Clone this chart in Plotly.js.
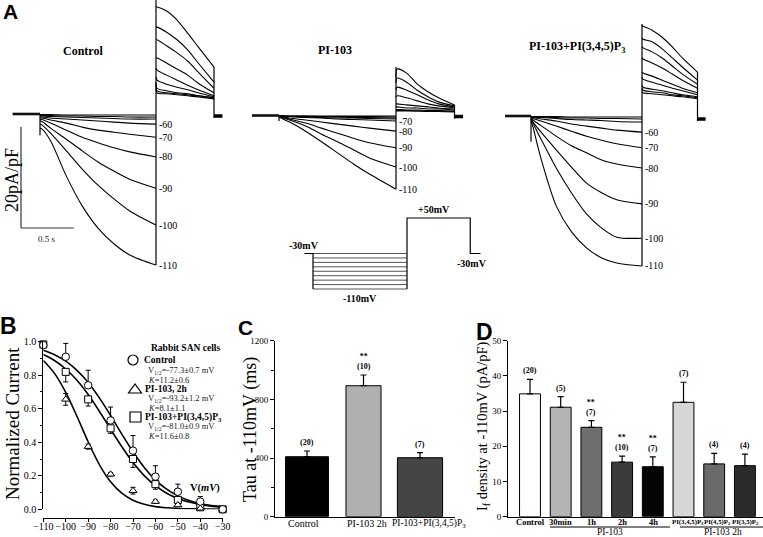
<!DOCTYPE html>
<html><head><meta charset="utf-8">
<script src="https://cdn.plot.ly/plotly-3.0.1.min.js"></script>
<style>html,body{margin:0;padding:0;background:#fff}</style>
</head><body><div id="chart" style="width:763px;height:537px"></div>
<script>
// ---------------- DATA ----------------
// Panel A: current traces (pA/pF) sampled at times (s) read from the recordings
const STEPS_MV = [-30,-40,-50,-60,-70,-80,-90,-100,-110];
const HOLD_T  = [-0.26, 0];
const T_PULSE = [0, 0.02, 0.1, 0.25, 0.4, 0.55, 0.7, 0.85, 1.1];
const T_TAIL  = [1.1, 1.11, 1.2, 1.3, 1.4, 1.5, 1.65];
const AFTER_T = [1.65, 1.73];

const CTRL_PULSE = [
 [-0.1,-0.1,-0.1,-0.2,-0.2,-0.2,-0.2,-0.2,-0.2],
 [-0.3,-0.3,-0.3,-0.4,-0.4,-0.5,-0.5,-0.6,-0.6],
 [-0.4,-0.4,-0.5,-0.6,-0.7,-0.8,-0.9,-1.0,-1.0],
 [-0.6,-0.6,-0.8,-1.0,-1.2,-1.4,-1.6,-1.8,-2.0],
 [-0.8,-0.8,-1.2,-1.8,-2.6,-3.2,-3.6,-4.0,-4.6],
 [-1.0,-1.1,-1.8,-3.2,-4.6,-5.7,-6.7,-7.5,-8.5],
 [-1.4,-1.5,-2.8,-5.0,-7.3,-9.5,-11.3,-12.9,-14.7],
 [-2.0,-2.2,-3.8,-7.3,-10.9,-14.1,-16.8,-19.2,-22.0],
 [-2.8,-3.0,-5.3,-12.3,-18.2,-22.6,-25.7,-27.9,-29.9]
];
const CTRL_TAIL = [
 [5.1,4.2,4.0,3.8,3.6,3.4,3.0],
 [5.7,4.6,4.2,4.0,3.8,3.6,3.2],
 [6.3,5.1,4.6,4.2,4.0,3.6,3.2],
 [7.3,6.7,5.9,5.3,4.8,4.2,3.4],
 [9.1,8.7,7.7,6.7,5.7,4.8,3.6],
 [11.1,11.1,10.1,8.9,7.7,6.1,4.2],
 [14.7,14.7,13.5,12.1,10.5,8.3,5.1],
 [17.2,17.2,16.2,14.7,12.7,10.1,6.3],
 [21.2,21.2,20.4,18.6,16.0,13.3,9.3]
];
const PI_PULSE = [
 [-0.1,-0.1,-0.1,-0.1,-0.1,-0.1,-0.1,-0.1,-0.1],
 [-0.1,-0.1,-0.1,-0.1,-0.2,-0.2,-0.2,-0.2,-0.3],
 [-0.1,-0.1,-0.2,-0.2,-0.3,-0.3,-0.4,-0.4,-0.5],
 [-0.1,-0.1,-0.2,-0.3,-0.4,-0.5,-0.5,-0.6,-0.7],
 [-0.1,-0.1,-0.2,-0.4,-0.5,-0.7,-0.8,-0.9,-1.1],
 [-0.2,-0.2,-0.5,-0.9,-1.3,-1.7,-2.1,-2.5,-3.1],
 [-0.2,-0.3,-0.7,-1.5,-2.5,-3.5,-4.5,-5.4,-6.4],
 [-0.3,-0.4,-0.9,-2.1,-3.7,-5.2,-6.8,-8.4,-10.2],
 [-0.3,-0.5,-1.3,-3.1,-5.2,-7.4,-9.6,-11.6,-14.6]
];
const PI_TAIL = [
 [0.9,0.9,0.9,0.9,0.8,0.8,0.7],
 [1.0,1.0,1.0,0.9,0.9,0.9,0.8],
 [1.2,1.2,1.1,1.1,1.0,1.0,0.9],
 [1.7,1.7,1.5,1.5,1.3,1.3,1.1],
 [2.3,2.3,2.1,1.9,1.7,1.5,1.3],
 [3.6,3.9,3.5,2.9,2.3,1.9,1.5],
 [5.0,5.6,5.0,4.1,3.1,2.3,1.7],
 [6.5,7.4,6.6,5.0,3.7,2.7,1.9],
 [7.5,9.2,8.4,6.2,4.7,3.5,2.1]
];
const PIP_PULSE = [
 [-0.1,-0.1,-0.1,-0.1,-0.2,-0.2,-0.2,-0.2,-0.2],
 [-0.1,-0.2,-0.2,-0.3,-0.4,-0.4,-0.5,-0.5,-0.6],
 [-0.1,-0.2,-0.3,-0.5,-0.7,-0.8,-0.9,-1.1,-1.2],
 [-0.2,-0.3,-0.6,-1.0,-1.6,-2.0,-2.4,-2.8,-3.2],
 [-0.3,-0.5,-1.0,-2.0,-3.0,-4.0,-4.8,-5.5,-6.3],
 [-0.4,-0.8,-1.9,-4.0,-5.9,-7.3,-8.7,-9.5,-10.3],
 [-0.6,-1.2,-3.2,-6.7,-10.1,-13.3,-15.2,-16.6,-17.4],
 [-0.6,-1.4,-4.6,-10.3,-15.2,-19.4,-22.2,-24.0,-24.2],
 [-0.8,-2.2,-8.5,-17.8,-22.9,-26.1,-28.1,-29.1,-29.7]
];
const PIP_TAIL = [
 [4.8,4.6,4.4,4.2,4.0,3.8,3.4],
 [5.5,5.1,4.8,4.6,4.2,4.0,3.6],
 [6.1,5.7,5.3,5.0,4.6,4.2,3.8],
 [7.7,7.3,6.7,6.1,5.5,5.0,4.2],
 [8.7,8.5,7.9,7.1,6.3,5.5,4.6],
 [11.5,11.3,10.5,9.5,8.3,7.1,5.5],
 [13.7,13.5,12.7,11.5,9.9,8.3,6.3],
 [15.4,15.2,14.7,13.3,11.5,9.7,7.1],
 [18.0,17.8,17.0,15.6,13.7,11.5,8.7]
];
const STEP_DIP  = [-4.2, -1.1, -5.1];   // onset transient (pA/pF)
const SPIKE_TOP = [30, 9.6, 18.2];      // transient at step to +50 mV
const AFTER_I   = [-0.4, -0.2, -0.6];   // current back at -30 mV
const SCALE_I = 20, SCALE_T = 0.5;      // scale bar values

// Voltage protocol (mV, s)
const HOLD_MV = -30, TEST_MV = 50;
const PROT_HOLD_T = [-0.1, 0], PROT_PULSE_T = [0, 1.1], PROT_TEST_T = [1.1, 1.84], PROT_AFTER_T = [1.84, 1.96];

// Panel B: activation curves
const B_V = [-110,-100,-90,-80,-70,-60,-50,-40,-30];
const B_CTRL = [0.98, 0.91, 0.74, 0.53, 0.35, 0.195, 0.105, 0.046, 0.0];
const B_CTRL_ERR = [0.01, 0.08, 0.09, 0.08, 0.09, 0.065, 0.045, 0.03, 0.0];
const B_PI = [null, 0.656, 0.374, 0.209, 0.111, 0.046, 0.026, 0.006, 0.0];
const B_PI_ERR = [0, 0.035, 0.015, 0.01, 0.02, 0.01, 0.01, 0.005, 0];
const B_PIP = [0.984, 0.82, 0.656, 0.483, 0.30, 0.15, 0.056, 0.012, 0.0];
const B_PIP_ERR = [0.01, 0.06, 0.04, 0.03, 0.05, 0.03, 0.015, 0.01, 0];
const FIT_V = [-110,-105,-100,-95,-90,-85,-80,-75,-70,-65,-60,-55,-50,-45,-40,-35,-30];
const FIT_CTRL = [0.949,0.922,0.884,0.829,0.757,0.665,0.560,0.449,0.343,0.250,0.176,0.120,0.080,0.053,0.035,0.022,0.015];
const FIT_PI   = [0.888,0.811,0.698,0.555,0.403,0.267,0.164,0.096,0.054,0.030,0.016,0.009,0.005,0.003,0.001,0.001,0.000];
const FIT_PIP  = [0.924,0.888,0.837,0.770,0.685,0.585,0.478,0.374,0.279,0.201,0.141,0.096,0.065,0.043,0.028,0.019,0.012];

// Panel C
const C_LABELS = ['Control', 'PI-103 2h', 'PI-103+PI(3,4,5)P<sub>3</sub>'];
const C_TAU = [409, 893, 402];
const C_ERR = [39, 73, 35];
const C_N = ['(20)', '(10)', '(7)'];
const C_SIG = ['', '**', ''];

// Panel D
const D_LABELS = ['Control','30min','1h','2h','4h','PI(3,4,5)P<sub>3</sub>','PI(4,5)P<sub>2</sub>','PI(3,5)P<sub>2</sub>'];
const D_IF = [34.9, 31.1, 25.4, 15.5, 14.2, 32.5, 15.0, 14.5];
const D_ERR = [4.1, 3.0, 1.9, 1.7, 2.8, 5.7, 3.0, 3.3];
const D_N = ['(20)','(5)','(7)','(10)','(7)','(7)','(4)','(4)'];
const D_SIG = ['','','**','**','**','','',''];
const D_GROUPS = ['PI-103', 'PI-103 2h'];

// ---------------- LAYOUT HELPERS ----------------
const W = 763, H = 537;
const PX = x => x / W, PY = y => 1 - y / H;
const SERIF = 'Liberation Serif, Times New Roman, serif';
const SANS = 'Liberation Sans, Arial, sans-serif';
const data = [];
const annotations = [];
const shapes = [];
const layout = {
  width: W, height: H, margin: {l:0, r:0, t:0, b:0},
  paper_bgcolor: '#fff', plot_bgcolor: 'rgba(0,0,0,0)',
  showlegend: false, hovermode: false,
  annotations, shapes
};
function ann(text, x, y, o) {
  annotations.push(Object.assign({text, xref:'paper', yref:'paper', x:PX(x), y:PY(y),
    showarrow:false, xanchor:'center', yanchor:'middle',
    font:{family:SERIF, size:10, color:'#000'}}, o || {}));
}
function axName(a) { return a.replace('x', 'xaxis').replace('y', 'yaxis'); }

// ---------------- PANEL A ----------------
const YSCALE = 5.05, YTOP = 0, YBOT = 285;
const GROUPS = [
  {title:'<b>Control</b>', tx:83, ty:51, pulse:CTRL_PULSE, tail:CTRL_TAIL, xa:'x', ya:'y', x0:12, x1:232, step:40, end:156, base:114, showFrom:3},
  {title:'<b>PI-103</b>', tx:335, ty:50, pulse:PI_PULSE, tail:PI_TAIL, xa:'x2', ya:'y2', x0:252, x1:470, step:279, end:396, base:115.5, showFrom:4},
  {title:'<b>PI-103+PI(3,4,5)P<sub>3</sub></b>', tx:577, ty:47, pulse:PIP_PULSE, tail:PIP_TAIL, xa:'x3', ya:'y3', x0:505, x1:715, step:531, end:642, base:116, showFrom:3}
];
const tEnd = T_PULSE[T_PULSE.length-1], tTail = T_TAIL[T_TAIL.length-1];
GROUPS.forEach((g, k) => {
  const sx = (g.end - g.step) / tEnd;
  g.sx = sx;
  layout[axName(g.xa)] = {domain:[PX(g.x0), PX(g.x1)], range:[-(g.step-g.x0)/sx, (g.x1-g.step)/sx], visible:false, fixedrange:true};
  layout[axName(g.ya)] = {domain:[PY(YBOT), PY(YTOP)], range:[-(YBOT-g.base)/YSCALE, (g.base-YTOP)/YSCALE], visible:false, fixedrange:true};
  const common = {xaxis:g.xa, yaxis:g.ya, mode:'lines', hoverinfo:'skip'};
  data.push(Object.assign({x:HOLD_T, y:[0,0], line:{color:'#111', width:2.6}}, common));
  g.pulse.forEach((p, i) => {
    data.push(Object.assign({x:[...T_PULSE, null, ...T_TAIL], y:[...p, null, ...g.tail[i]],
      connectgaps:false, line:{color:'#000', width:1.1, shape:'spline', smoothing:0.8}}, common));
  });
  const ends = g.pulse.map(p => p[p.length-1]);
  const tailEnds = g.tail.map(p => p[p.length-1]);
  data.push(Object.assign({x:[0,0,null,tEnd,tEnd,null,tTail,tTail],
    y:[0, STEP_DIP[k], null, Math.min(...ends), SPIKE_TOP[k], null, Math.max(...tailEnds), AFTER_I[k]-0.4],
    line:{color:'#000', width:1.2}}, common));
  data.push(Object.assign({x:AFTER_T, y:[AFTER_I[k], AFTER_I[k]], line:{color:'#000', width:3.5}}, common));
  g.pulse.forEach((p, i) => {
    if (i < g.showFrom) return;
    annotations.push({text:String(STEPS_MV[i]), xref:g.xa, yref:g.ya, x:tEnd, y:p[p.length-1],
      xanchor:'left', yanchor:'middle', xshift:1, showarrow:false,
      font:{family:SERIF, size:10, color:'#000'}});
  });
  ann(g.title, g.tx, g.ty, {font:{family:SERIF, size:12, color:'#000'}});
});
// scale bar (Control axes)
{
  const g = GROUPS[0];
  const cornerT = (21 - g.step) / g.sx, cornerI = -(228 - g.base) / YSCALE;
  shapes.push({type:'line', xref:'x', yref:'y', x0:cornerT, x1:cornerT, y0:cornerI, y1:cornerI+SCALE_I, line:{color:'#333', width:1.2}});
  shapes.push({type:'line', xref:'x', yref:'y', x0:cornerT, x1:cornerT+SCALE_T, y0:cornerI, y1:cornerI, line:{color:'#333', width:1.2}});
  ann('20pA/pF', 12, 180, {textangle:-90, font:{family:SERIF, size:18, color:'#000'}});
  ann('0.5 s', 47, 239, {font:{family:SERIF, size:9, color:'#222'}});
}

// Voltage protocol (x4/y4)
{
  const sx4 = (407 - 313) / PROT_PULSE_T[1];
  const sy4 = (289 - 218) / (TEST_MV - STEPS_MV[STEPS_MV.length-1]);
  const vMin = STEPS_MV[STEPS_MV.length-1];
  layout.xaxis4 = {domain:[PX(300), PX(492)], range:[-(313-300)/sx4, (492-313)/sx4], visible:false, fixedrange:true};
  layout.yaxis4 = {domain:[PY(298), PY(205)], range:[vMin-(298-289)/sy4, TEST_MV+(218-205)/sy4], visible:false, fixedrange:true};
  const c = {xaxis:'x4', yaxis:'y4', mode:'lines', hoverinfo:'skip'};
  STEPS_MV.forEach(v => data.push(Object.assign({x:PROT_PULSE_T, y:[v, v], line:{color:'#555', width:1}}, c)));
  data.push(Object.assign({
    x:[PROT_HOLD_T[0], PROT_HOLD_T[1], PROT_PULSE_T[0], null, PROT_PULSE_T[1], PROT_TEST_T[0], PROT_TEST_T[1], PROT_AFTER_T[0], PROT_AFTER_T[1]],
    y:[HOLD_MV, HOLD_MV, vMin, null, vMin, TEST_MV, TEST_MV, HOLD_MV, HOLD_MV],
    line:{color:'#000', width:1.2}}, c));
  const pf = {family:SERIF, size:10, color:'#000', weight:'bold'};
  annotations.push({text:HOLD_MV+'mV', xref:'x4', yref:'y4', x:PROT_HOLD_T[0], y:HOLD_MV, yanchor:'bottom', xanchor:'center', yshift:1, showarrow:false, font:pf});
  annotations.push({text:'+'+TEST_MV+'mV', xref:'x4', yref:'y4', x:(PROT_TEST_T[0]+PROT_TEST_T[1])/2-0.05, y:TEST_MV, yanchor:'bottom', xanchor:'center', yshift:1, showarrow:false, font:pf});
  annotations.push({text:HOLD_MV+'mV', xref:'x4', yref:'y4', x:PROT_AFTER_T[0]+0.02, y:HOLD_MV, yanchor:'top', xanchor:'center', yshift:-2, showarrow:false, font:pf});
  annotations.push({text:vMin+'mV', xref:'x4', yref:'y4', x:(PROT_PULSE_T[0]+PROT_PULSE_T[1])/2, y:vMin, yanchor:'top', xanchor:'center', yshift:-2, showarrow:false, font:pf});
}

// ---------------- PANEL B ----------------
layout.xaxis5 = {domain:[PX(43.3), PX(222.7)], range:[-110, -30], anchor:'free', position:PY(518.3),
  showline:true, linecolor:'#000', linewidth:1, ticks:'outside', ticklen:3, tickcolor:'#000', dtick:10, tick0:-110,
  tickangle:0, automargin:false, ticklabelstandoff:-4,
  showgrid:false, zeroline:false, tickfont:{family:SERIF, size:10, color:'#000'}, fixedrange:true};
layout.yaxis5 = {domain:[PY(509.3), PY(341.7)], range:[0, 1], anchor:'x5',
  showline:true, linecolor:'#000', linewidth:1, ticks:'outside', ticklen:4, tickcolor:'#000', dtick:0.2, tickformat:'.1f',
  minor:{dtick:0.1, ticks:'outside', ticklen:2, tickcolor:'#000'},
  showgrid:false, zeroline:false, tickfont:{family:SERIF, size:10, color:'#000'}, fixedrange:true};
[FIT_CTRL, FIT_PI, FIT_PIP].forEach(f => data.push({x:FIT_V, y:f, xaxis:'x5', yaxis:'y5', mode:'lines',
  line:{color:'#000', width:1.6, shape:'spline'}, hoverinfo:'skip'}));
const zeros = a => a.map(() => 0);
data.push({x:B_V, y:B_PIP, xaxis:'x5', yaxis:'y5', mode:'markers', cliponaxis:false,
  marker:{symbol:'square', size:7, color:'#fff', line:{color:'#000', width:1}},
  error_y:{type:'data', symmetric:false, array:zeros(B_PIP_ERR), arrayminus:B_PIP_ERR, color:'#000', thickness:1, width:2.5}});
data.push({x:B_V, y:B_PI, xaxis:'x5', yaxis:'y5', mode:'markers', cliponaxis:false,
  marker:{symbol:'triangle-up', size:7, color:'#fff', line:{color:'#000', width:1}},
  error_y:{type:'data', array:B_PI_ERR, color:'#000', thickness:1, width:2.5}});
data.push({x:B_V, y:B_CTRL, xaxis:'x5', yaxis:'y5', mode:'markers', cliponaxis:false,
  marker:{symbol:'circle', size:7.5, color:'#fff', line:{color:'#000', width:1}},
  error_y:{type:'data', symmetric:false, array:B_CTRL_ERR, arrayminus:zeros(B_CTRL_ERR), color:'#000', thickness:1, width:2.5}});
ann('Normalized Current', 12, 424, {textangle:-90, font:{family:SERIF, size:19, color:'#000'}});
{
  const lf = {family:SERIF, size:9.5, color:'#000', weight:'bold'};
  const nf = {family:SERIF, size:8.5, color:'#222'};
  ann('Rabbit SAN cells', 185, 348, {font:lf});
  shapes.push({type:'circle', xref:'paper', yref:'paper', x0:PX(128), x1:PX(138), y0:PY(365), y1:PY(355), line:{color:'#000', width:1.2}, fillcolor:'#fff'});
  ann('Control', 142, 360, {xanchor:'left', font:lf});
  ann('V<sub>1/2</sub>=-77.3±0.7 mV', 146, 370.5, {xanchor:'left', font:nf});
  ann('<i>K</i>=11.2±0.6', 146, 380, {xanchor:'left', font:nf});
  shapes.push({type:'path', xref:'paper', yref:'paper', path:`M ${PX(128.5)},${PY(393)} L ${PX(141.5)},${PY(393)} L ${PX(135)},${PY(384)} Z`, line:{color:'#000', width:1.2}, fillcolor:'#fff'});
  ann('PI-103, 2h', 143, 389, {xanchor:'left', font:lf});
  ann('V<sub>1/2</sub>=-93.2±1.2 mV', 146, 398.5, {xanchor:'left', font:nf});
  ann('<i>K</i>=8.1±1.1', 146, 408, {xanchor:'left', font:nf});
  shapes.push({type:'rect', xref:'paper', yref:'paper', x0:PX(130), x1:PX(141), y0:PY(422), y1:PY(412), line:{color:'#000', width:1.2}, fillcolor:'#fff'});
  ann('PI-103+PI(3,4,5)P<sub>3</sub>', 143, 417, {xanchor:'left', font:lf});
  ann('V<sub>1/2</sub>=-81.0±0.9 mV', 146, 426.5, {xanchor:'left', font:nf});
  ann('<i>K</i>=11.6±0.8', 146, 436, {xanchor:'left', font:nf});
  ann('V(<i>mV</i>)', 205, 488, {font:{family:SERIF, size:10.5, color:'#000', weight:'bold'}});
}

// ---------------- PANEL C ----------------
{
  const cat0 = 307, step = 56.5, x0 = 275, x1 = 455;
  layout.xaxis7 = {domain:[PX(x0), PX(x1)], range:[-(cat0-x0)/step, (x1-cat0)/step], anchor:'y7', type:'category',
    showline:true, linecolor:'#000', linewidth:1.2, ticks:'', showticklabels:false, showgrid:false, zeroline:false, fixedrange:true};
  layout.yaxis7 = {domain:[PY(516.7), PY(340.7)], range:[0, 1200], anchor:'x7',
    showline:true, linecolor:'#000', linewidth:1, ticks:'outside', ticklen:4, tickcolor:'#000', tickvals:[0,400,800,1200],
    minor:{tickvals:[200,600,1000], ticks:'outside', ticklen:3, tickcolor:'#000'},
    showgrid:false, zeroline:false, tickfont:{family:SERIF, size:9, color:'#000'}, fixedrange:true};
  data.push({type:'bar', x:C_LABELS, y:C_TAU, xaxis:'x7', yaxis:'y7', width:[0.76,0.62,0.8],
    marker:{color:['#000000','#b0b0b0','#454545'], line:{color:'#000', width:1}},
    error_y:{type:'data', symmetric:false, array:C_ERR, arrayminus:zeros(C_ERR), color:'#000', thickness:1.2, width:3},
    hoverinfo:'skip'});
  const shift = [-4, 3, 9];
  C_LABELS.forEach((c, i) => {
    annotations.push({text:(C_SIG[i] ? C_SIG[i] + '<br>' : '') + C_N[i], xref:'x7', yref:'y7', x:c, y:C_TAU[i]+C_ERR[i],
      yanchor:'bottom', xanchor:'center', yshift:2, showarrow:false,
      font:{family:SERIF, size:8, color:'#000', weight:'bold'}});
    annotations.push({text:c, xref:'x7', yref:'paper', x:c, y:PY(523.5), xshift:shift[i],
      yanchor:'middle', xanchor:'center', showarrow:false,
      font:{family:SERIF, size:i === 2 ? 9.5 : 10, color:'#000'}});
  });
  ann('Tau at -110mV (ms)', 250, 430, {textangle:-90, font:{family:SERIF, size:18, color:'#000'}});
}

// ---------------- PANEL D ----------------
{
  const cat0 = 530, step = 30.7, x0 = 508, x1 = 763;
  layout.xaxis8 = {domain:[PX(x0), PX(x1)], range:[-(cat0-x0)/step, (x1-cat0)/step], anchor:'y8', type:'category',
    showline:true, linecolor:'#000', linewidth:1.2, ticks:'', showticklabels:false, showgrid:false, zeroline:false, fixedrange:true};
  layout.yaxis8 = {domain:[PY(516.7), PY(340.7)], range:[0, 50], anchor:'x8',
    showline:true, linecolor:'#000', linewidth:1, ticks:'outside', ticklen:4, tickcolor:'#000', dtick:10,
    showgrid:false, zeroline:false, tickfont:{family:SERIF, size:9, color:'#000'}, fixedrange:true};
  data.push({type:'bar', x:D_LABELS, y:D_IF, xaxis:'x8', yaxis:'y8', width:0.68,
    marker:{color:['#ffffff','#b3b3b3','#6e6e6e','#3b3b3b','#050505','#d6d6d6','#6a6a6a','#2b2b2b'], line:{color:'#000', width:1}},
    error_y:{type:'data', symmetric:false, array:D_ERR, arrayminus:zeros(D_ERR), color:'#000', thickness:1.2, width:3},
    hoverinfo:'skip'});
  const shift = [0, 0, 0.5, 0, 0.5, 4, 3, 1];
  D_LABELS.forEach((c, i) => {
    annotations.push({text:(D_SIG[i] ? D_SIG[i] + '<br>' : '') + D_N[i], xref:'x8', yref:'y8', x:c, y:D_IF[i]+D_ERR[i],
      yanchor:'bottom', xanchor:'center', yshift:2, showarrow:false,
      font:{family:SERIF, size:8, color:'#000', weight:'bold'}});
    annotations.push({text:c, xref:'x8', yref:'paper', x:c, y:PY(521.5), xshift:shift[i],
      yanchor:'middle', xanchor:'center', showarrow:false,
      font:{family:SERIF, size:i >= 5 ? 6.8 : 8.5, color:'#000', weight:'bold'}});
  });
  shapes.push({type:'line', xref:'paper', yref:'paper', x0:PX(550), x1:PX(670), y0:PY(527), y1:PY(527), line:{color:'#000', width:1}});
  shapes.push({type:'line', xref:'paper', yref:'paper', x0:PX(680), x1:PX(763), y0:PY(527), y1:PY(527), line:{color:'#000', width:1}});
  ann(D_GROUPS[0], 610, 532, {font:{family:SERIF, size:9.5, color:'#000'}});
  ann(D_GROUPS[1], 723, 532, {font:{family:SERIF, size:9.5, color:'#000'}});
  ann('I<sub>f</sub> density at -110mV (pA/pF)', 483, 427, {textangle:-90, font:{family:SERIF, size:14.5, color:'#000'}});
}

// Panel letters
const LF = {family:SANS, size:23, color:'#000', weight:'bold'};
ann('A', 10, 12, {font:Object.assign({}, LF, {size:21})});
ann('B', 8, 326, {font:LF});
ann('C', 245, 327, {font:Object.assign({}, LF, {size:21})});
ann('D', 484, 332, {font:LF});

Plotly.newPlot('chart', data, layout, {staticPlot:true, displayModeBar:false});
</script>
</body></html>
